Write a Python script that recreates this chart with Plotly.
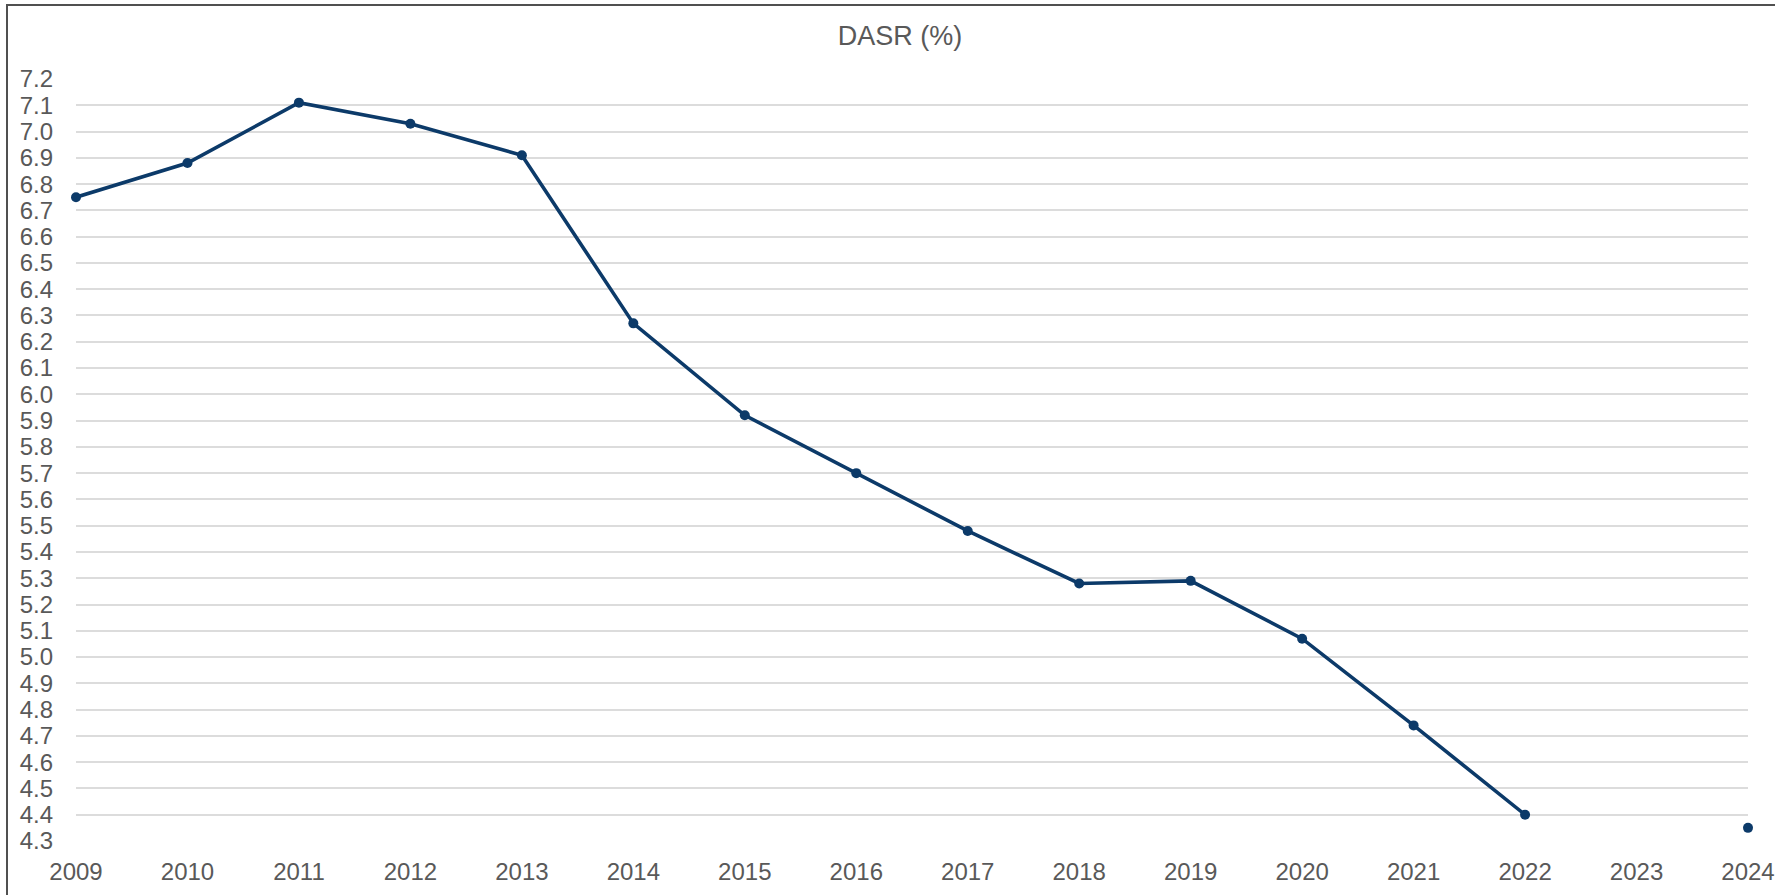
import plotly.graph_objects as go

years = [2009, 2010, 2011, 2012, 2013, 2014, 2015, 2016, 2017, 2018, 2019, 2020, 2021, 2022, 2023, 2024]
dasr = [6.75, 6.88, 7.11, 7.03, 6.91, 6.27, 5.92, 5.70, 5.48, 5.28, 5.29, 5.07, 4.74, 4.40, None, 4.35]
y_ticks = [round(4.3 + 0.1 * i, 1) for i in range(30)]
title_text = "DASR (%)"

W, H = 1775, 895
L, R, T, B = 76, 27, 79, 54
pw = W - L - R
ph = H - T - B

FONT = "Liberation Sans, Arial, sans-serif"
NAVY = "#0c3a69"
GREY = "#595959"

fig = go.Figure()
fig.add_trace(go.Scatter(
    x=years, y=dasr, mode="lines+markers",
    line=dict(color=NAVY, width=3.6),
    marker=dict(color=NAVY, size=10),
    connectgaps=False, showlegend=False, hoverinfo="x+y",
    cliponaxis=False,
))

def px_x(p):
    return (p - L) / pw

def px_y(p):
    return 1 - (p - T) / ph

fig.update_layout(
    width=W, height=H, autosize=False,
    margin=dict(l=L, r=R, t=T, b=B, pad=0, autoexpand=False),
    paper_bgcolor="white", plot_bgcolor="white",
    title=dict(text=title_text, x=px_x(900), xref="paper", xanchor="center",
               y=1 - 36 / H, yref="container", yanchor="middle",
               font=dict(family=FONT, size=27, color=GREY)),
    xaxis=dict(range=[2009, 2024], tickmode="array", tickvals=years,
               ticktext=[str(y) for y in years], showgrid=False, zeroline=False,
               showline=False, ticks="", ticklabelstandoff=14, automargin=False,
               tickfont=dict(family=FONT, size=24, color=GREY)),
    yaxis=dict(range=[4.3, 7.2], tickmode="array", tickvals=y_ticks,
               ticktext=[f"{v:.1f}" for v in y_ticks], automargin=False,
               showgrid=True, gridcolor="#dcdcdc", gridwidth=1.6,
               zeroline=False, showline=False, ticks="", ticklabelstandoff=22,
               tickfont=dict(family=FONT, size=24, color=GREY)),
    shapes=[
        dict(type="line", xref="paper", yref="paper",
             x0=px_x(6), x1=px_x(W + 5), y0=px_y(5), y1=px_y(5),
             line=dict(color="#505050", width=2)),
        dict(type="line", xref="paper", yref="paper",
             x0=px_x(7), x1=px_x(7), y0=px_y(5), y1=px_y(H + 5),
             line=dict(color="#505050", width=2)),
    ],
)

fig.write_html(
    "out.html",
    config={"displayModeBar": False, "responsive": False},
    post_script="document.body.style.margin='0';document.body.style.padding='0';",
)
